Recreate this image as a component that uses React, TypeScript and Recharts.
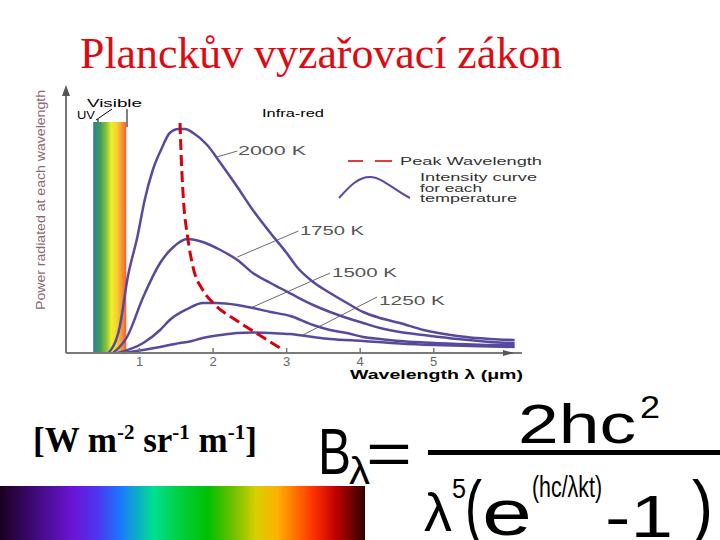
import { LineChart, Line, XAxis, YAxis, ReferenceLine, ReferenceArea, ReferenceDot } from "recharts";

// wavelength (µm) and power readings for each temperature curve
const lambda2000 = [0.58, 0.73, 0.84, 0.97, 1.07, 1.18, 1.31, 1.41, 1.53, 1.62, 1.73, 1.92, 2.1, 2.33, 2.54, 2.78, 3.0, 3.14, 3.36, 3.59, 3.82, 4.04, 4.27, 4.54, 4.86, 5.32, 5.77, 6.1];
const power2000 = [0, 26, 76, 116, 153, 183, 206, 220, 224, 224, 220, 208, 190, 166, 143, 120, 100, 86, 71, 60, 50, 41, 35, 30, 23, 17, 14, 13];

const lambda1750 = [0.64, 0.83, 1.05, 1.28, 1.46, 1.65, 1.86, 2.1, 2.33, 2.54, 2.78, 2.91, 3.14, 3.36, 3.59, 3.82, 4.04, 4.27, 4.54, 4.86, 5.32, 5.77, 6.1];
const power1750 = [0, 16, 56, 90, 106, 114, 111, 103, 93, 80, 70, 65, 56, 48, 41, 35, 30, 25, 21, 18, 14, 11, 10];

const lambda1500 = [0.7, 1.05, 1.28, 1.41, 1.65, 1.86, 2.05, 2.33, 2.54, 2.78, 3.05, 3.36, 3.59, 3.82, 4.04, 4.27, 4.54, 4.86, 5.32, 5.77, 6.1];
const power1500 = [0, 10, 23, 33, 44, 50, 50, 48, 45, 41, 37, 28, 23, 20, 16, 14, 12, 10.5, 9, 8, 8];

const lambda1250 = [0.78, 1.05, 1.28, 1.55, 1.65, 1.86, 2.1, 2.33, 2.54, 2.78, 3.05, 3.36, 3.59, 4.04, 4.54, 5.0, 5.5, 6.1];
const power1250 = [0, 3, 6, 10, 11, 15, 18, 20, 20.5, 20, 19, 16, 14, 12, 9.5, 8, 7, 6];

// dashed line through the peaks (Wien)
const peakLambda = [1.55, 1.57, 1.6, 1.65, 1.73, 1.86, 2.0, 2.33, 2.65, 2.91];
const peakPower = [230, 190, 150, 118, 85, 63, 50, 32, 17, 5];

const xTicks = [1, 2, 3, 4, 5];
const tempLabels = ["2000 K", "1750 K", "1500 K", "1250 K"];

const toPoints = (xs: number[], ys: number[]) => xs.map((x, i) => ({ x, y: ys[i] }));

const CURVE = "#574a9e";
const SANS = "Liberation Sans, Arial, sans-serif";
const SERIF = "Liberation Serif, Times New Roman, serif";

function WaveTick({ x, y, payload }: any) {
  return (
    <g>
      <line x1={x} x2={x} y1={y - 5} y2={y} stroke="#777" strokeWidth={1.5} />
      <text x={x} y={y + 13} textAnchor="middle" fontSize={13} fill="#666" fontFamily={SANS}>
        {payload.value}
      </text>
    </g>
  );
}

export default function App() {
  const curves = [
    toPoints(lambda2000, power2000),
    toPoints(lambda1750, power1750),
    toPoints(lambda1500, power1500),
    toPoints(lambda1250, power1250),
  ];

  return (
    <div style={{ position: "absolute", left: 0, top: 0, width: 720, height: 540, background: "#fff", overflow: "hidden" }}>
      <div
        style={{
          position: "absolute",
          left: 0,
          top: 486,
          width: 365,
          height: 54,
          background:
            "linear-gradient(to right, #1a0020 0%, #4a0c90 12%, #6a14d4 20%, #4a38f0 27%, #1a78ff 33%, #00e090 42%, #00d040 49%, #00c000 57%, #70c000 64%, #d8d000 70%, #ffb000 76%, #ff3000 86%, #c00000 92%, #300000 100%)",
        }}
      />
      <div style={{ position: "absolute", left: 0, top: 0 }}>
        <LineChart width={720} height={400} margin={{ top: 88, right: 198, bottom: 17, left: 66 }}>
          <defs>
            <linearGradient id="visible" x1="0" y1="0" x2="1" y2="0">
              <stop offset="0%" stopColor="#2f7f9a" />
              <stop offset="20%" stopColor="#3a9a5a" />
              <stop offset="40%" stopColor="#8cc43a" />
              <stop offset="55%" stopColor="#f2ee2a" />
              <stop offset="72%" stopColor="#f8d030" />
              <stop offset="85%" stopColor="#f89a38" />
              <stop offset="100%" stopColor="#f06038" />
            </linearGradient>
          </defs>
          <XAxis
            type="number"
            dataKey="x"
            domain={[0, 6.2]}
            ticks={xTicks}
            allowDataOverflow
            height={30}
            axisLine={{ stroke: "#7a7a7a", strokeWidth: 2 }}
            tickLine={false}
            tickSize={0}
            tickMargin={0}
            tick={<WaveTick />}
          />
          <YAxis type="number" dataKey="y" domain={[0, 265]} hide />
          <ReferenceArea x1={0.37} x2={0.82} y1={0} y2={231} fill="url(#visible)" fillOpacity={1} stroke="none" />
          <ReferenceLine x={0} stroke="#777" strokeWidth={2} />
          <ReferenceDot
            x={0}
            y={265}
            ifOverflow="visible"
            shape={(p: any) => <polygon points={`${p.cx},${p.cy - 3} ${p.cx - 4},${p.cy + 8} ${p.cx + 4},${p.cy + 8}`} fill="#555" />}
          />
          <ReferenceDot
            x={6.05}
            y={0}
            ifOverflow="visible"
            shape={(p: any) => <polygon points={`${p.cx + 3},${p.cy} ${p.cx - 8},${p.cy - 3} ${p.cx - 8},${p.cy + 3}`} fill="#555" />}
          />
          <ReferenceLine segment={[{ x: 2.05, y: 196 }, { x: 2.33, y: 202 }]} stroke="#444" strokeWidth={0.8} />
          <ReferenceLine segment={[{ x: 2.33, y: 96 }, { x: 3.16, y: 122 }]} stroke="#444" strokeWidth={0.8} />
          <ReferenceLine segment={[{ x: 2.54, y: 46 }, { x: 3.59, y: 80 }]} stroke="#444" strokeWidth={0.8} />
          <ReferenceLine segment={[{ x: 3.22, y: 18 }, { x: 4.23, y: 56 }]} stroke="#444" strokeWidth={0.8} />
          {curves.map((pts, i) => (
            <Line
              key={tempLabels[i]}
              data={pts}
              dataKey="y"
              type="monotone"
              stroke={CURVE}
              strokeWidth={2.5}
              dot={false}
              isAnimationActive={false}
            />
          ))}
          <Line
            data={toPoints(peakLambda, peakPower)}
            dataKey="y"
            type="monotone"
            stroke="#d8000f"
            strokeWidth={3}
            strokeDasharray="11 5"
            dot={false}
            isAnimationActive={false}
          />

          {/* annotations */}
          <g fontFamily={SANS}>
            <text x={45} y={200} transform="rotate(-90 45 200)" textAnchor="middle" fontSize={12} fill="#8a6a78" textLength={220} lengthAdjust="spacingAndGlyphs">
              Power radiated at each wavelength
            </text>
            <text x={350} y={379} fontSize={13} fontWeight="bold" fill="#000" textLength={173} lengthAdjust="spacingAndGlyphs">
              Wavelength λ (μm)
            </text>
            <text x={87} y={107} fontSize={11} fill="#000" textLength={55} lengthAdjust="spacingAndGlyphs">Visible</text>
            <text x={77} y={119} fontSize={11} fill="#000" textLength={18} lengthAdjust="spacingAndGlyphs">UV</text>
            <line x1={96} y1={120} x2={112} y2={109} stroke="#000" strokeWidth={1} />
            <line x1={98} y1={119} x2={98} y2={127} stroke="#000" strokeWidth={1} />
            <line x1={127} y1={109} x2={127} y2={127} stroke="#000" strokeWidth={1} />
            <text x={262} y={117} fontSize={11} fill="#000" textLength={62} lengthAdjust="spacingAndGlyphs">Infra-red</text>

            <text x={238} y={155} fontSize={12} fill="#555" textLength={68} lengthAdjust="spacingAndGlyphs">{tempLabels[0]}</text>
            <text x={300} y={235} fontSize={12} fill="#555" textLength={64} lengthAdjust="spacingAndGlyphs">{tempLabels[1]}</text>
            <text x={332} y={277} fontSize={12} fill="#555" textLength={65} lengthAdjust="spacingAndGlyphs">{tempLabels[2]}</text>
            <text x={379} y={305} fontSize={12} fill="#555" textLength={66} lengthAdjust="spacingAndGlyphs">{tempLabels[3]}</text>

            <line x1={348} y1={161} x2={363} y2={161} stroke="#c00" strokeWidth={1.5} />
            <line x1={375} y1={161} x2={392} y2={161} stroke="#c00" strokeWidth={1.5} />
            <text x={400} y={165} fontSize={11} fill="#333" textLength={142} lengthAdjust="spacingAndGlyphs">Peak Wavelength</text>
            <path d="M339 198 C350 186, 358 177, 370 177 C382 177, 394 190, 410 198" fill="none" stroke={CURVE} strokeWidth={2} />
            <text x={420} y={181} fontSize={11} fill="#333" textLength={117} lengthAdjust="spacingAndGlyphs">Intensity curve</text>
            <text x={420} y={192} fontSize={11} fill="#333" textLength={62} lengthAdjust="spacingAndGlyphs">for each</text>
            <text x={420} y={202} fontSize={11} fill="#333" textLength={97} lengthAdjust="spacingAndGlyphs">temperature</text>
          </g>
        </LineChart>
      </div>

      <svg width={720} height={540} style={{ position: "absolute", left: 0, top: 0, pointerEvents: "none" }}>
        <text x={80} y={68} fontFamily={SERIF} fontSize={44} fill="#dd0a12" textLength={482} lengthAdjust="spacingAndGlyphs">
          Planckův vyzařovací zákon
        </text>

        <text x={33} y={452} fontFamily={SERIF} fontSize={35} fontWeight="bold" fill="#000">
          [W m<tspan fontSize={21} dy={-13}>-2</tspan>
          <tspan dy={13}> sr</tspan>
          <tspan fontSize={21} dy={-13}>-1</tspan>
          <tspan dy={13}> m</tspan>
          <tspan fontSize={21} dy={-13}>-1</tspan>
          <tspan dy={13}>]</tspan>
        </text>

        <g fontFamily={SANS} fill="#000">
          <text x={318} y={474} fontSize={64} textLength={33} lengthAdjust="spacingAndGlyphs">B</text>
          <text x={349} y={484} fontSize={38} textLength={21} lengthAdjust="spacingAndGlyphs">λ</text>
          <text x={366} y={474} fontSize={60} textLength={46} lengthAdjust="spacingAndGlyphs">=</text>
          <rect x={428} y={450} width={292} height={5} />
          <text x={518} y={443} fontSize={56} textLength={118} lengthAdjust="spacingAndGlyphs">2hc</text>
          <text x={640} y={418} fontSize={31} textLength={20} lengthAdjust="spacingAndGlyphs">2</text>
          <text x={424} y={531} fontSize={54} textLength={28} lengthAdjust="spacingAndGlyphs">λ</text>
          <text x={452} y={498} fontSize={28} textLength={14} lengthAdjust="spacingAndGlyphs">5</text>
          <text x={465} y={530} fontSize={70} textLength={17} lengthAdjust="spacingAndGlyphs">(</text>
          <text x={482} y={535} fontSize={64} textLength={50} lengthAdjust="spacingAndGlyphs">e</text>
          <text x={532} y={497} fontSize={30} textLength={70} lengthAdjust="spacingAndGlyphs">(hc/λkt)</text>
          <text x={605} y={537} fontSize={60} textLength={68} lengthAdjust="spacingAndGlyphs">-1</text>
          <text x={692} y={530} fontSize={70} textLength={21} lengthAdjust="spacingAndGlyphs">)</text>
        </g>
      </svg>
    </div>
  );
}
